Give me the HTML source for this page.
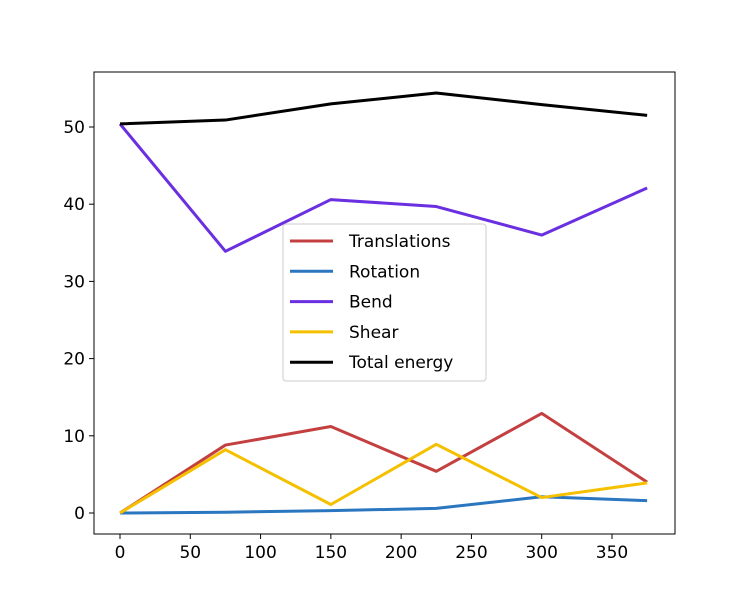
<!DOCTYPE html>
<html><head><meta charset="utf-8"><style>
body{margin:0;background:#fff;}
svg{display:block;font-family:"DejaVu Sans","Liberation Sans",sans-serif;}
</style></head><body>
<svg id="chart" width="750" height="600"></svg>
<script>
const xValues=[0,75,150,225,300,375];
const translations=[0,8.8,11.2,5.4,12.9,4.0];
const rotation=[0,0.1,0.3,0.6,2.1,1.6];
const bend=[50.4,33.9,40.6,39.7,36.0,42.1];
const shear=[0,8.2,1.1,8.9,2.0,3.9];
const totalEnergy=[50.4,50.9,53.0,54.4,52.9,51.5];
const xTicks=[0,50,100,150,200,250,300,350];
const yTicks=[0,10,20,30,40,50];
const seriesNames=["Translations","Rotation","Bend","Shear","Total energy"];

const NS="http://www.w3.org/2000/svg";
const svg=document.getElementById('chart');
const L=94,R=675,T=72,B=534;
const xs=v=>120+v*1.4057;
const ys=v=>513-v*7.72;
function mk(tag,attrs,parent){const e=document.createElementNS(NS,tag);for(const k in attrs)e.setAttribute(k,attrs[k]);(parent||svg).appendChild(e);return e;}

const series=[
 {name:seriesNames[0],data:translations,color:"#c44040"},
 {name:seriesNames[1],data:rotation,color:"#2a77c0"},
 {name:seriesNames[2],data:bend,color:"#6a2fe0"},
 {name:seriesNames[3],data:shear,color:"#f5c000"},
 {name:seriesNames[4],data:totalEnergy,color:"#000000"}];

series.forEach((s,i)=>{
 const p=mk('polyline',{points:s.data.map((v,j)=>xs(xValues[j])+','+ys(v)).join(' '),fill:'none',stroke:s.color,'stroke-width':3,'stroke-linejoin':'round'});
 
 
});

const frame=mk('rect',{x:L,y:T,width:R-L,height:B-T,fill:'none',stroke:'#000','stroke-width':1});



xTicks.forEach(t=>{
 const x=xs(t);
 mk('line',{x1:x,x2:x,y1:B,y2:B+5,stroke:'#000'});
 const tx=mk('text',{x:x,y:B+24,'text-anchor':'middle','font-size':17});
 tx.textContent=t;
 
 
});
yTicks.forEach(t=>{
 const y=ys(t);
 mk('line',{x1:L-5,x2:L,y1:y,y2:y,stroke:'#000'});
 const tx=mk('text',{x:L-9,y:y+6,'text-anchor':'end','font-size':17});
 tx.textContent=t;
 
 
});

const lg=mk('g',{});


mk('rect',{x:283,y:224,width:203,height:157,rx:3,fill:'#fff',stroke:'#ccc'},lg);
series.forEach((s,i)=>{
 const y=241+i*30.3;
 mk('line',{x1:290,x2:333,y1:y,y2:y,stroke:s.color,'stroke-width':3},lg);
 const tx=mk('text',{x:349,y:y+6,'font-size':17},lg);
 tx.textContent=s.name;
 
 
});
</script>
</body></html>
